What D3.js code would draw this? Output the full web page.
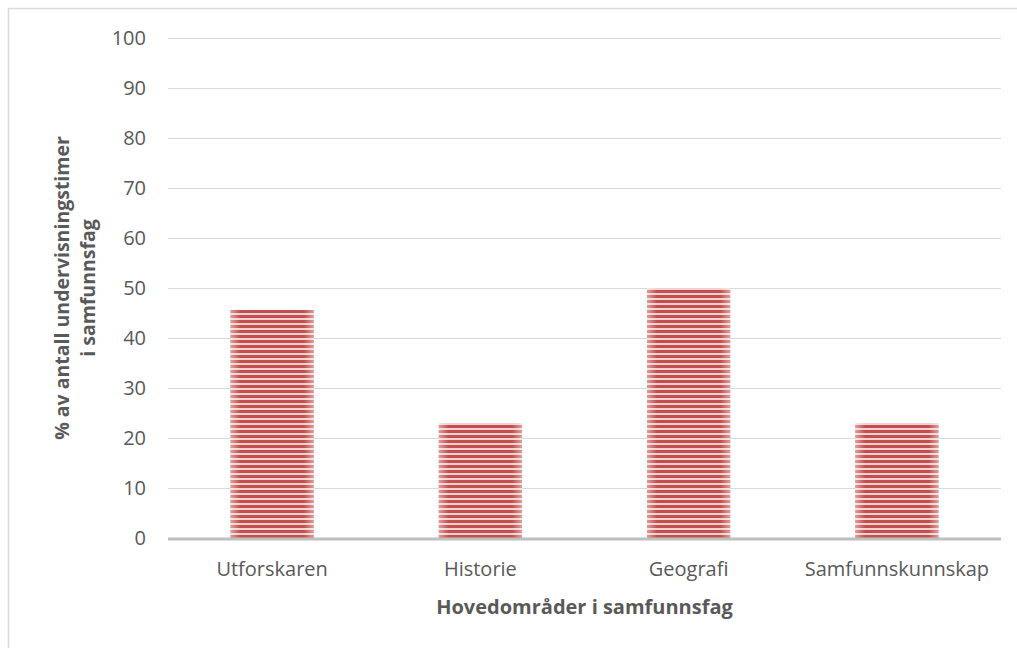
<!DOCTYPE html>
<html><head><meta charset="utf-8">
<script src="https://cdn.jsdelivr.net/npm/d3@7"></script>
<style>body{margin:0;background:#fff;}svg{display:block;}</style>
</head><body>
<script>
const categories = ["Utforskaren", "Historie", "Geografi", "Samfunnskunnskap"];
const values = [45.6, 23, 50, 23];
const yTicks = [0, 10, 20, 30, 40, 50, 60, 70, 80, 90, 100];
const xTitle = "Hovedområder i samfunnsfag";
const yTitle = ["% av antall undervisningstimer", "i samfunnsfag"];

(function () {
const W = 1017, H = 648;
const svg = d3.select("body").append("svg").attr("width", W).attr("height", H);
const font = "'Open Sans', 'Noto Sans', sans-serif";

const defs = svg.append("defs");
const pat = defs.append("pattern").attr("id", "stripes").attr("patternUnits", "userSpaceOnUse")
  .attr("width", 10).attr("height", 5);
pat.append("rect").attr("width", 10).attr("height", 5).attr("fill", "#EFD2D1");
pat.append("rect").attr("width", 10).attr("height", 3).attr("fill", "#C44E4B");
const grad = defs.append("linearGradient").attr("id", "edge").attr("x1", 0).attr("x2", 1).attr("y1", 0).attr("y2", 0);
grad.append("stop").attr("offset", 0).attr("stop-color", "#fff").attr("stop-opacity", 0.45);
grad.append("stop").attr("offset", 0.12).attr("stop-color", "#fff").attr("stop-opacity", 0);
grad.append("stop").attr("offset", 0.88).attr("stop-color", "#fff").attr("stop-opacity", 0);
grad.append("stop").attr("offset", 1).attr("stop-color", "#fff").attr("stop-opacity", 0.45);

// frame
svg.append("line").attr("x1", 8.5).attr("x2", 8.5).attr("y1", 8).attr("y2", H).attr("stroke", "#D9D9D9").attr("stroke-width", 1.5);
svg.append("line").attr("x1", 8).attr("x2", W).attr("y1", 8.5).attr("y2", 8.5).attr("stroke", "#D9D9D9").attr("stroke-width", 1.5);

const mLeft = 168, mRight = 1001, mTop = 38, mBottom = 538;
const x = d3.scaleBand().domain(categories).range([mLeft, mRight]).paddingInner(0.6).paddingOuter(0.3);
const y = d3.scaleLinear().domain([0, 100]).range([mBottom, mTop]);

// grid
const yAxis = d3.axisLeft(y).tickValues(yTicks).tickSize(-(mRight - mLeft)).tickPadding(22);
const gy = svg.append("g").attr("transform", `translate(${mLeft},0)`).call(yAxis);
gy.select(".domain").remove();
gy.selectAll(".tick line").attr("stroke", "#D9D9D9").attr("stroke-width", 1);
gy.selectAll(".tick text").attr("fill", "#595959").style("font-family", font).style("font-size", "20px");

// bars
const bars = svg.append("g");
bars.selectAll("rect.b").data(categories).join("rect").attr("class", "b")
  .attr("x", d => x(d)).attr("width", x.bandwidth())
  .attr("y", (d, i) => y(values[i])).attr("height", (d, i) => y(0) - y(values[i]))
  .attr("fill", "url(#stripes)");
bars.selectAll("rect.e").data(categories).join("rect").attr("class", "e")
  .attr("x", d => x(d)).attr("width", x.bandwidth())
  .attr("y", (d, i) => y(values[i])).attr("height", (d, i) => y(0) - y(values[i]))
  .attr("fill", "url(#edge)");

// x axis
const xAxis = d3.axisBottom(x).tickSize(0).tickPadding(24);
const gx = svg.append("g").attr("transform", `translate(0,${mBottom})`).call(xAxis);
gx.select(".domain").remove();
gx.selectAll(".tick text").attr("fill", "#595959").style("font-family", font).style("font-size", "20px");
svg.append("line").attr("x1", mLeft).attr("x2", mRight).attr("y1", mBottom + 1).attr("y2", mBottom + 1)
  .attr("stroke", "#BFBFBF").attr("stroke-width", 3);

// titles
svg.append("text").attr("x", (mLeft + mRight) / 2).attr("y", 614).attr("text-anchor", "middle")
  .attr("fill", "#595959").style("font-family", font).style("font-size", "20px").style("font-weight", "bold")
  .text(xTitle);
const yt = svg.append("text").attr("transform", `translate(69,${(mTop + mBottom) / 2}) rotate(-90)`)
  .attr("text-anchor", "middle").attr("fill", "#595959").style("font-family", font)
  .style("font-size", "19.5px").style("font-weight", "bold");
yTitle.forEach((t, i) => yt.append("tspan").attr("x", 0).attr("dy", i === 0 ? 0 : 26).text(t));
})();
</script>
</body></html>
